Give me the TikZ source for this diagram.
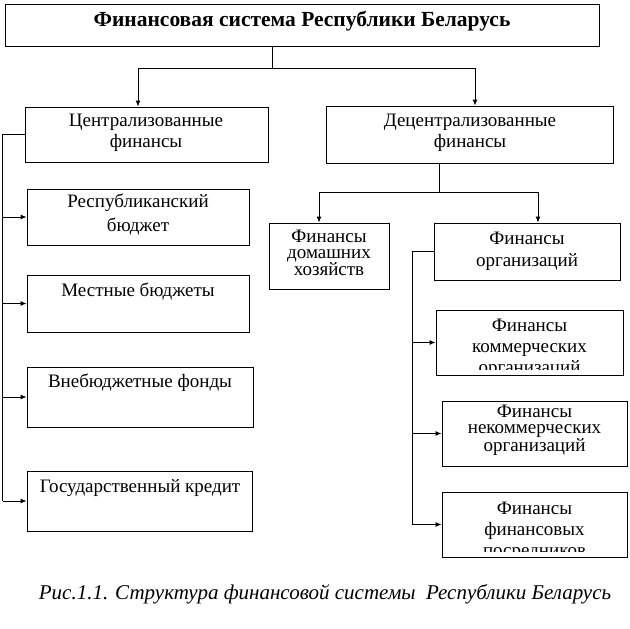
\documentclass[tikz,border=0pt]{standalone}
\usepackage{fontspec}
\setmainfont{Liberation Serif}
\usetikzlibrary{arrows.meta,fit}
\begin{document}
\begin{tikzpicture}[x=1pt,y=-1pt,
  box/.style={draw, line width=0.9pt, inner sep=0pt, rectangle},
  txt/.style={align=center, inner sep=0pt, font=\fontsize{19}{21}\selectfont},
  tight/.style={align=center, inner sep=0pt, font=\fontsize{19}{16}\selectfont},
  conn/.style={line width=0.9pt},
  arr/.style={line width=0.9pt, -{Latex[length=6pt,width=5pt]}}]
\useasboundingbox (0,0) rectangle (630,629);
% boxes
\node[box, fit={(5,4) (599,46)}] (title) {};
\node[box, fit={(25,107) (268,162)}] (central) {};
\node[box, fit={(326,106) (613,163)}] (decentral) {};
\node[box, fit={(27,189) (249,245)}] (rep) {};
\node[box, fit={(27,275) (249,332)}] (loc) {};
\node[box, fit={(27,367) (253,427)}] (extra) {};
\node[box, fit={(27,471) (252,531)}] (gos) {};
\node[box, fit={(269,223) (389,289)}] (home) {};
\node[box, fit={(434,223) (620,280)}] (org) {};
\node[box, fit={(436,310) (623,375)}] (comm) {};
\node[box, fit={(442,401) (627,466)}] (noncomm) {};
\node[box, fit={(442,492) (627,557)}] (interm) {};
% texts
\node[inner sep=0pt, font=\fontsize{21.5}{24}\selectfont\bfseries] (titletext) at (302,21) {Финансовая система Республики Беларусь};
\node[txt] (centraltext) at (146,133) {Централизованные\\финансы};
\node[txt] (decentraltext) at (470,133) {Децентрализованные\\финансы};
\node[txt, font=\fontsize{19}{24}\selectfont] (reptext) at (138,215) {Республиканский\\бюджет};
\node[txt] (loctext) at (138,292) {Местные бюджеты};
\node[txt] (extratext) at (140,383) {Внебюджетные фонды};
\node[txt] (gostext) at (140,488) {Государственный кредит};
\node[tight] (hometext) at (329,253) {Финансы\\домашних\\хозяйств};
\node[txt, font=\fontsize{19}{22}\selectfont] (orgtext) at (527,251) {Финансы\\организаций};
\begin{scope}
  \clip (comm.north west) rectangle ([yshift=6pt]comm.south east);
  \node[txt] (commtext) at (529.5,348) {Финансы\\коммерческих\\организаций};
\end{scope}
\node[tight] (noncommtext) at (534.5,430) {Финансы\\некоммерческих\\организаций};
\begin{scope}
  \clip (interm.north west) rectangle ([yshift=6pt]interm.south east);
  \node[txt] (intermtext) at (534.5,531) {Финансы\\финансовых\\посредников};
\end{scope}
% caption
\node[inner sep=0pt, font=\fontsize{21}{24}\selectfont\itshape] (caption) at (325,594) {Рис.1.1. Структура финансовой системы\ \ Республики Беларусь};
% connectors: top level
\coordinate (j1) at (272,68);
\draw[conn] (title.south -| j1) -- (j1);
\draw[arr] (j1) -| ([xshift=-8.5pt]central.north);
\draw[arr] (j1) -| ([xshift=5.5pt]decentral.north);
% centralised branch
\draw[conn] (central.west) -- ++(-22,0) coordinate (L) -- (L |- gos.west);
\draw[arr] (L |- rep.west) -- (rep.west);
\draw[arr] (L |- loc.west) -- (loc.west);
\draw[arr] (L |- extra.west) -- (extra.west);
\draw[arr] (L |- gos.west) -- (gos.west);
% decentralised branch
\coordinate (d1) at (439,192);
\draw[conn] (decentral.south -| d1) -- (d1);
\draw[arr] (d1) -| ([xshift=-10pt]home.north);
\draw[arr] (d1) -| ([xshift=11pt]org.north);
% organisations branch
\draw[conn] (org.west) -- ++(-21,0) coordinate (R) -- (R |- interm.west);
\draw[arr] (R |- comm.west) -- (comm.west);
\draw[arr] (R |- noncomm.west) -- (noncomm.west);
\draw[arr] (R |- interm.west) -- (interm.west);
\end{tikzpicture}
\end{document}
